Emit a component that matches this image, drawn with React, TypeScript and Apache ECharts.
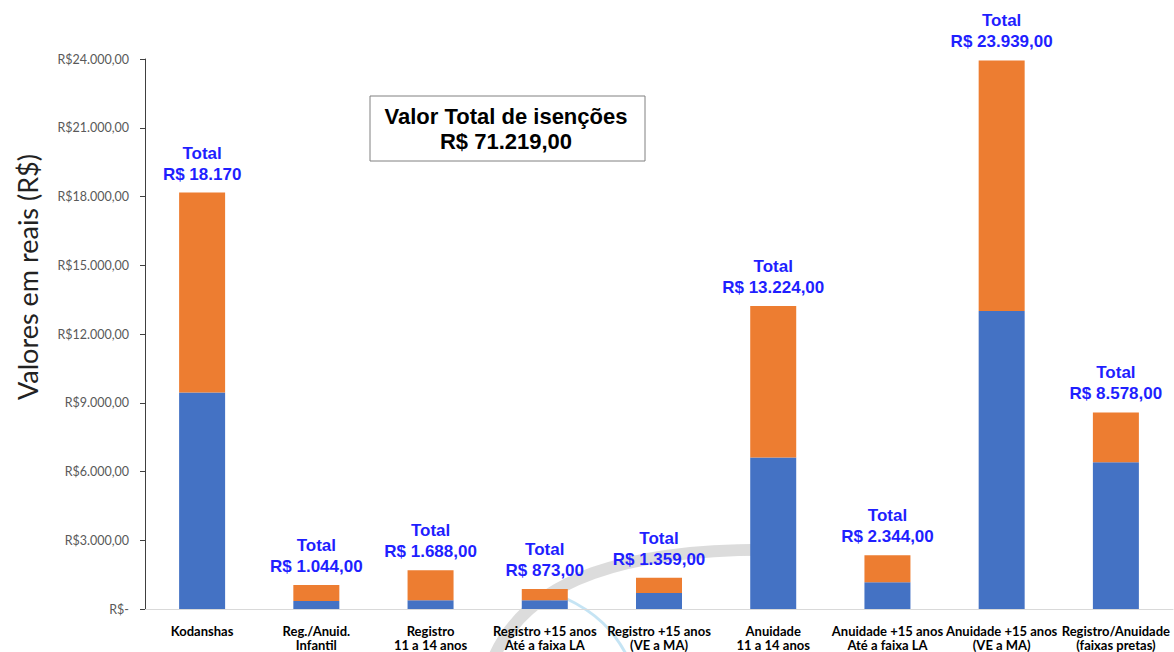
import React, { useEffect, useRef } from "react";
import * as echarts from "echarts";

// Categories (two-line labels)
const categories: string[] = [
  "Kodanshas",
  "Reg./Anuid.\nInfantil",
  "Registro\n11 a 14 anos",
  "Registro +15 anos\nAté a faixa LA",
  "Registro +15 anos\n(VE a MA)",
  "Anuidade\n11 a 14 anos",
  "Anuidade +15 anos\nAté a faixa LA",
  "Anuidade +15 anos\n(VE a MA)",
  "Registro/Anuidade\n(faixas pretas)",
];

// Total exemption per category (R$)
const totals: number[] = [18170, 1044, 1688, 873, 1359, 13224, 2344, 23939, 8578];

// Lower (blue) portion of each bar
const bluePart: number[] = [9450, 348, 380, 380, 700, 6612, 1172, 13000, 6400];

// Whether the total label is written with cents
const showCents: boolean[] = [false, true, true, true, true, true, true, true, true];

// Upper (orange) portion = total − blue
const orangePart: number[] = totals.map((t, i) => t - bluePart[i]);

const grandTotal = totals.reduce((a, b) => a + b, 0);

const yTicks = { min: 0, max: 24000, interval: 3000 };

function fmtBR(v: number, cents: boolean): string {
  const int = Math.round(v)
    .toString()
    .replace(/\B(?=(\d{3})+(?!\d))/g, ".");
  return cents ? `${int},00` : int;
}

export default function App() {
  const ref = useRef<HTMLDivElement>(null);

  useEffect(() => {
    if (!ref.current) return;
    const chart = echarts.init(ref.current, null, { renderer: "svg" });

    chart.setOption({
      animation: false,
      backgroundColor: "#ffffff",
      grid: { left: 145, right: 1, top: 59, bottom: 42, containLabel: false },
      xAxis: {
        type: "category",
        data: categories,
        axisLine: { show: true, lineStyle: { color: "#d9d9d9", width: 1 } },
        axisTick: { show: false },
        axisLabel: {
          interval: 0,
          margin: 15,
          fontFamily: "Lato",
          fontWeight: "bold",
          fontSize: 13,
          lineHeight: 14,
          color: "#000000",
        },
      },
      yAxis: {
        type: "value",
        min: yTicks.min,
        max: yTicks.max,
        interval: yTicks.interval,
        splitLine: { show: false },
        axisLine: { show: true, lineStyle: { color: "#404040", width: 1 } },
        axisTick: { show: true, length: 5, lineStyle: { color: "#404040" } },
        axisLabel: {
          margin: 16,
          fontFamily: "Lato",
          fontSize: 12.5,
          color: "#595959",
          formatter: (v: number) => (v === 0 ? "R$-" : `R$${fmtBR(v, true)}`),
        },
      },
      graphic: [
        // faint logo swoosh in the background
        {
          type: "bezierCurve",
          z: 0,
          silent: true,
          shape: { x1: 492, y1: 662, cpx1: 525, cpy1: 578, cpx2: 630, cpy2: 546, x2: 790, y2: 550 },
          style: { stroke: "rgba(185,185,185,0.5)", lineWidth: 12, fill: "none" },
        },
        {
          type: "bezierCurve",
          z: 0,
          silent: true,
          shape: { x1: 565, y1: 598, cpx1: 595, cpy1: 612, cpx2: 615, cpy2: 630, x2: 630, y2: 662 },
          style: { stroke: "rgba(150,205,235,0.55)", lineWidth: 3, fill: "none" },
        },
        {
          type: "text",
          silent: true,
          x: 27,
          y: 277,
          rotation: Math.PI / 2,
          style: {
            text: "Valores em reais (R$)",
            fontFamily: "Lato",
            fontSize: 27,
            fill: "#222222",
            align: "center",
            verticalAlign: "middle",
          },
        },
        {
          type: "rect",
          z: 10,
          shape: { x: 370, y: 96, width: 275, height: 65 },
          style: { fill: "#ffffff", stroke: "#808080", lineWidth: 1 },
        },
        {
          type: "text",
          z: 11,
          x: 506,
          y: 116,
          style: {
            text: "Valor Total de isenções",
            fontFamily: "Liberation Sans, Arial, sans-serif",
            fontWeight: "bold",
            fontSize: 22,
            fill: "#000000",
            align: "center",
            verticalAlign: "middle",
          },
        },
        {
          type: "text",
          z: 11,
          x: 506,
          y: 141,
          style: {
            text: `R$ ${fmtBR(grandTotal, true)}`,
            fontFamily: "Liberation Sans, Arial, sans-serif",
            fontWeight: "bold",
            fontSize: 22,
            fill: "#000000",
            align: "center",
            verticalAlign: "middle",
          },
        },
      ],
      series: [
        {
          name: "base",
          type: "bar",
          stack: "total",
          barWidth: 46,
          data: bluePart,
          itemStyle: { color: "#4472c4" },
        },
        {
          name: "topo",
          type: "bar",
          stack: "total",
          barWidth: 46,
          data: orangePart,
          itemStyle: { color: "#ed7d31" },
          label: {
            show: true,
            position: "top",
            distance: 8,
            fontFamily: "Liberation Sans, Arial, sans-serif",
            fontWeight: "bold",
            fontSize: 17,
            lineHeight: 21,
            color: "#1f1fff",
            align: "center",
            formatter: (p: any) =>
              `Total\nR$ ${fmtBR(totals[p.dataIndex], showCents[p.dataIndex])}`,
          },
        },
      ],
    });

    return () => chart.dispose();
  }, []);

  return (
    <div
      ref={ref}
      style={{ position: "fixed", left: 0, top: 0, width: 1174, height: 652 }}
    />
  );
}
